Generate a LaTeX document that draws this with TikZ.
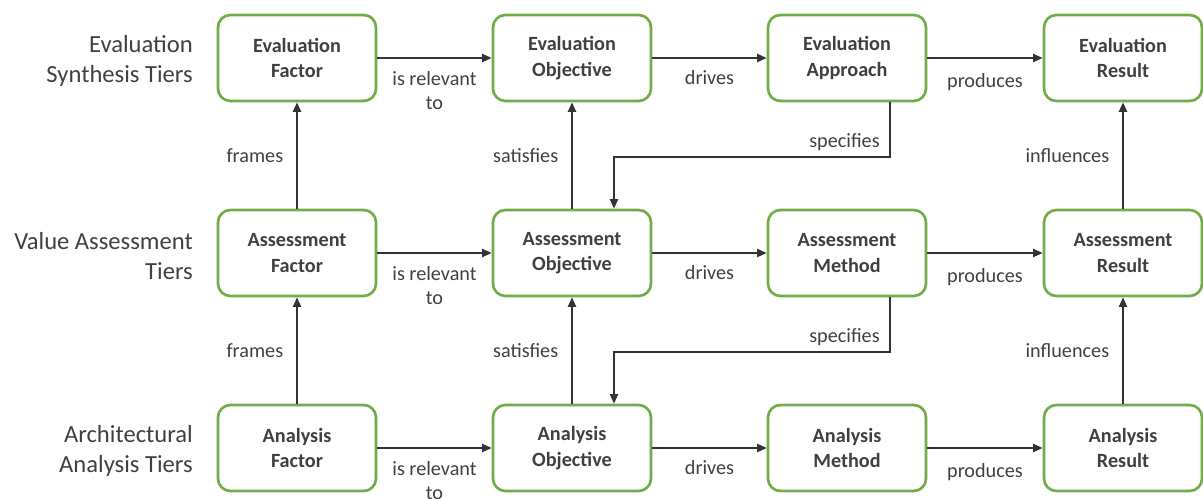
\documentclass[tikz,border=0pt]{standalone}
\usepackage{fontspec}
\setmainfont{Carlito}
\usetikzlibrary{positioning,arrows.meta}
\definecolor{boxgreen}{HTML}{70AD47}
\definecolor{txtgray}{HTML}{404040}
\definecolor{arrgray}{HTML}{333333}
\tikzset{
  item/.style={draw=boxgreen, line width=1.5pt, rounded corners=7pt, fill=white,
    minimum width=3.16cm, minimum height=1.72cm, align=center, text=txtgray,
    font=\fontsize{11.5}{14.4}\selectfont\bfseries},
  tier/.style={align=right, anchor=east, text=txtgray, font=\fontsize{14}{17}\selectfont},
  rel/.style={text=txtgray, font=\fontsize{11.5}{13.6}\selectfont, align=center},
  arr/.style={draw=arrgray, line width=1.1pt, -{Triangle[length=1.9mm,width=1.6mm]}}
}
\begin{document}
\begin{tikzpicture}[x=0.02cm,y=-0.02cm]
    \useasboundingbox (0,0) rectangle (1203,499);
    % tiers
    \node[tier] (tiereval) at (199,61) {Evaluation\\Synthesis Tiers};
    \node[tier] (tierval) at (199,256) {Value Assessment\\Tiers};
    \node[tier] (tierarch) at (199,451) {Architectural\\Analysis Tiers};
    % evaluation synthesis
    \node[item] (evfac) at (297,58) {Evaluation\\Factor};
    \node[item] (evobj) at (572,58) {Evaluation\\Objective};
    \node[item] (evapp) at (847,58) {Evaluation\\Approach};
    \node[item] (evres) at (1123,58) {Evaluation\\Result};
    % value assessment
    \node[item] (asfac) at (297,253) {Assessment\\Factor};
    \node[item] (asobj) at (572,253) {Assessment\\Objective};
    \node[item] (asmeth) at (847,253) {Assessment\\Method};
    \node[item] (asres) at (1123,253) {Assessment\\Result};
    % architectural analysis
    \node[item] (anfac) at (297,448) {Analysis\\Factor};
    \node[item] (anobj) at (572,448) {Analysis\\Objective};
    \node[item] (anmeth) at (847,448) {Analysis\\Method};
    \node[item] (anres) at (1123,448) {Analysis\\Result};
    % horizontal relations
    \foreach \a/\b/\c/\d in {evfac/evobj/evapp/evres, asfac/asobj/asmeth/asres, anfac/anobj/anmeth/anres}{
        \draw[arr] (\a) -- node[rel, below=4pt] {is relevant\\to} (\b);
        \draw[arr] (\b) -- node[rel, below=3pt] {drives} (\c);
        \draw[arr] (\c) -- node[rel, below=5pt] {produces} (\d);
    }
    % vertical relations
    \foreach \lo/\hi/\m in {asfac/evfac/frames, anfac/asfac/frames, asobj/evobj/satisfies, anobj/asobj/satisfies, asres/evres/influences, anres/asres/influences}{
        \draw[arr] (\lo) -- node[rel, left=4pt] {\m} (\hi);
    }
    \draw[arr] ([xshift=0.86cm]evapp.south) -- ++(0,55) node[rel, above left=0pt and 2pt] {specifies} -| ([xshift=0.84cm]asobj.north);
    \draw[arr] ([xshift=0.86cm]asmeth.south) -- ++(0,55) node[rel, above left=0pt and 2pt] {specifies} -| ([xshift=0.84cm]anobj.north);
\end{tikzpicture}
\end{document}
